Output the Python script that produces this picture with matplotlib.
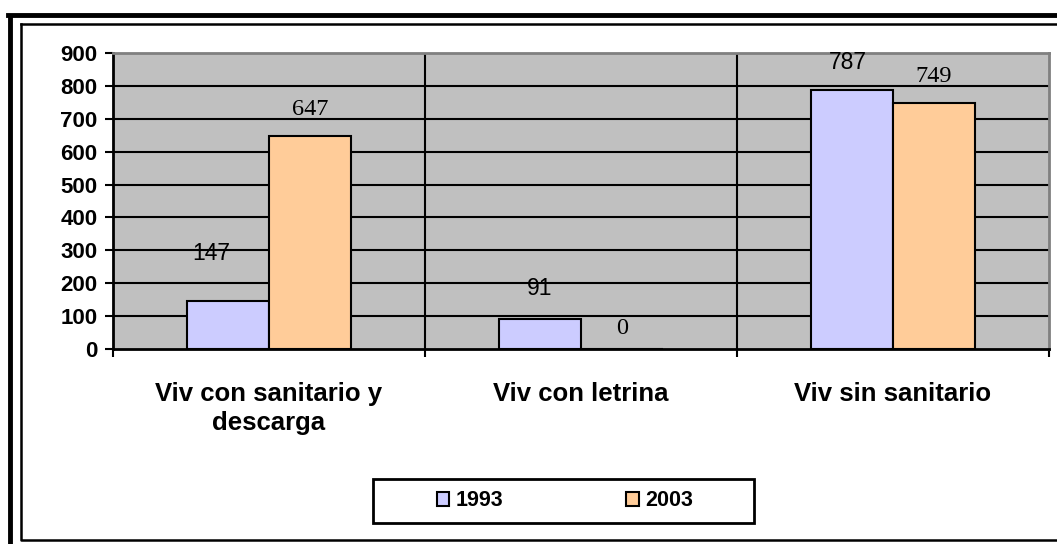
import matplotlib
matplotlib.use('Agg')
import matplotlib.pyplot as plt
from matplotlib.patches import Rectangle, Patch
from matplotlib.lines import Line2D
import numpy as np

# data
categories = ['Viv con sanitario y\ndescarga', 'Viv con letrina', 'Viv sin sanitario']
years = ['1993', '2003']
v1993 = [147, 91, 787]
v2003 = [647, 0, 749]
yticks = [0, 100, 200, 300, 400, 500, 600, 700, 800, 900]

colors = ['#CCCCFF', '#FFCC99']
# label offsets (points) as placed in the original, (dx, dy) above bar top
off1993 = [(-12, 34), (0, 22), (-3, 20)]
off2003 = [(0, 19), (0, 15), (0, 19)]

fig = plt.figure(figsize=(10.57, 5.44), dpi=100)
ax = fig.add_axes([113/1057, 1-349/544, (1049-113)/1057, (349-53)/544])
ax.set_facecolor('#C0C0C0')

x = np.arange(len(categories))
w = 0.263
b1 = ax.bar(x - w/2, v1993, w, color=colors[0], edgecolor='black', linewidth=1.5, zorder=3)
b2 = ax.bar(x + w/2, v2003, w, color=colors[1], edgecolor='black', linewidth=1.5, zorder=3)

for i in range(len(x)):
    ax.annotate(str(v1993[i]), (x[i] - w/2, v1993[i]), xytext=off1993[i],
                textcoords='offset points', ha='center', va='center',
                fontsize=16.5, family='Liberation Sans', zorder=4)
    ax.annotate(str(v2003[i]), (x[i] + w/2, v2003[i]), xytext=off2003[i],
                textcoords='offset points', ha='center', va='center',
                fontsize=17.5, family='Liberation Serif', zorder=4)

ax.set_xlim(-0.5, 2.5)
ax.set_ylim(0, 900)
ax.set_yticks(yticks)
ax.set_yticklabels([str(t) for t in yticks], fontsize=16, fontweight='bold', family='Liberation Sans')
for t in yticks[1:-1]:
    ax.axhline(t, color='black', lw=1.5, zorder=1)
for b in [0.5, 1.5]:
    ax.axvline(b, color='black', lw=1.5, zorder=1)

ax.set_xticks(x)
ax.set_xticklabels(categories, fontsize=18.5, fontweight='bold', family='Liberation Sans', linespacing=1.25)
ax.set_xticks([-0.5, 0.5, 1.5, 2.5], minor=True)
ax.tick_params(axis='x', which='major', length=0, pad=24)
ax.tick_params(axis='x', which='minor', length=6, width=1.5, direction='out')
ax.tick_params(axis='y', length=6, width=1.5, direction='out', pad=5)

ax.spines['left'].set_linewidth(2)
ax.spines['bottom'].set_linewidth(2)
ax.spines['top'].set_color('#808080')
ax.spines['right'].set_color('#808080')
ax.spines['top'].set_linewidth(2)
ax.spines['right'].set_linewidth(2)

# legend with its own frame
handles = [Patch(facecolor=c, edgecolor='black', linewidth=1.5) for c in colors]
leg = fig.legend(handles, years, loc='center', bbox_to_anchor=(565/1057, 1-501/544),
                 ncol=2, frameon=False, handlelength=0.6, handleheight=0.6,
                 handletextpad=0.3, columnspacing=5.7,
                 prop={'family': 'Liberation Sans', 'weight': 'bold', 'size': 15.5})
fig.add_artist(Rectangle((373/1057, 1-523/544), (754-373)/1057, 44/544,
                         transform=fig.transFigure, fill=False, edgecolor='black', lw=2))

# outer double border
fig.add_artist(Line2D([10/1057, 10/1057], [0, 1-16/544], transform=fig.transFigure, color='black', lw=3.5))
fig.add_artist(Line2D([8/1057, 1], [1-14.5/544, 1-14.5/544], transform=fig.transFigure, color='black', lw=3.5))
fig.add_artist(Line2D([21/1057, 21/1057, 1], [1-24/544, 1-540/544, 1-540/544], transform=fig.transFigure, color='black', lw=1.8))
fig.add_artist(Line2D([21/1057, 1], [1-24/544, 1-24/544], transform=fig.transFigure, color='black', lw=1.8))

fig.savefig('out.png', dpi=100)
